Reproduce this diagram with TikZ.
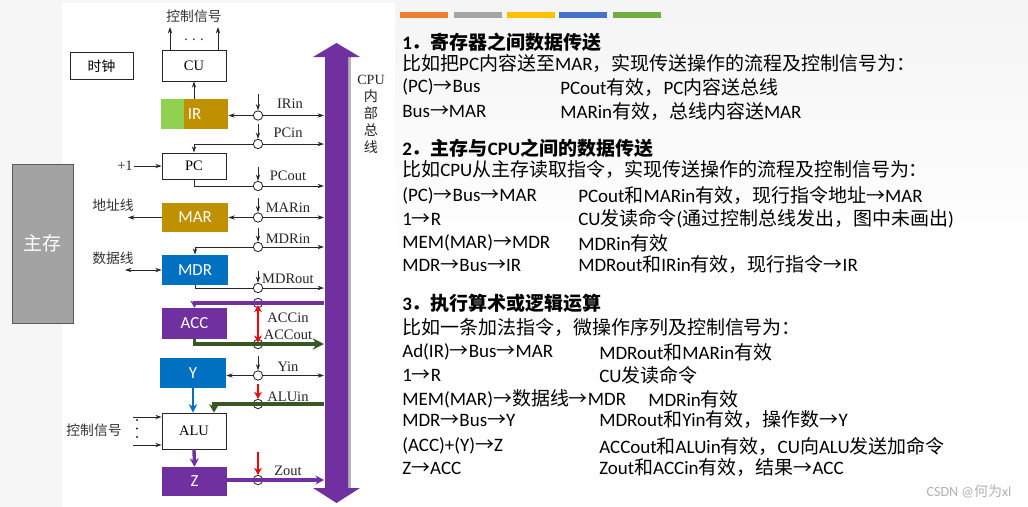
\documentclass[tikz,border=0pt]{standalone}
\usepackage{fontspec}
\usetikzlibrary{arrows.meta}
\setmainfont{Carlito}
\newfontfamily\cjk{Noto Sans CJK SC}
\newfontfamily\tnr{Liberation Serif}
\definecolor{BusMorado}{RGB}{112, 48, 160}
\definecolor{RegDorado}{RGB}{191, 144, 0}
\definecolor{IrVerde}{RGB}{146, 208, 80}
\definecolor{RegAzul}{RGB}{0, 112, 192}
\definecolor{LineaVerde}{RGB}{56, 87, 35}
\definecolor{MemGris}{RGB}{163, 163, 163}
\definecolor{BarNaranja}{RGB}{237, 125, 49}
\definecolor{BarGris}{RGB}{165, 165, 165}
\definecolor{BarAmarillo}{RGB}{255, 192, 0}
\definecolor{BarAzul}{RGB}{68, 114, 196}
\definecolor{BarVerde}{RGB}{112, 173, 71}

% chinese characters -> CJK font
\XeTeXinterchartokenstate=1
\newcount\hanchar
\def\setHan#1#2{\hanchar=#1\relax
  \loop\XeTeXcharclass\hanchar=77\relax
  \ifnum\hanchar<#2\relax\advance\hanchar by 1\repeat}
\setHan{"4E00}{"9FFF}
\setHan{"3000}{"303F}
\setHan{"FF00}{"FFEF}
\setHan{"2192}{"2192}
\XeTeXinterchartoks 0 77={\begingroup\cjk}
\XeTeXinterchartoks 4095 77={\begingroup\cjk}
\XeTeXinterchartoks 77 0={\endgroup}
\XeTeXinterchartoks 77 4095={\endgroup}

\tikzset{
  boxsize/.style 2 args={minimum width=#1*0.025cm, minimum height=#2*0.025cm},
  reg/.style={draw=black!85, line width=0.6pt, inner sep=0pt, font=\tnr\fontsize{10.3}{12}\selectfont},
  creg/.style={inner sep=0pt, text=white, font=\fontsize{12}{14}\selectfont},
  gate/.style={circle, draw=black!85, line width=0.6pt, fill=white, minimum size=0.235cm, inner sep=0pt},
  lbl/.style={inner sep=1pt, text=black!85, font=\tnr\fontsize{10.3}{12}\selectfont},
  zh/.style={inner sep=1pt, text=black!80, font=\fontsize{9.8}{12}\selectfont},
  sig/.style={draw=black!85, line width=0.6pt, -{Stealth[length=4.5pt,width=3pt]}},
  sigb/.style={draw=black!85, line width=0.6pt, {Stealth[length=4.5pt,width=3pt]}-{Stealth[length=4.5pt,width=3pt]}},
  morado/.style={BusMorado, line width=2.4pt, -{Stealth[length=6pt,width=6.5pt]}},
  verde/.style={LineaVerde, line width=2.8pt, -{Stealth[length=8pt,width=8pt]}},
  azul/.style={RegAzul, line width=2pt, -{Stealth[length=6pt,width=6pt]}},
  redsig/.style={red, line width=2pt, -{Stealth[length=5pt,width=5.5pt]}},
  txt/.style={anchor=west, inner sep=0pt, font=\fontsize{13.5}{16}\selectfont},
  hd/.style={anchor=west, inner sep=0pt, font=\bfseries\fontsize{13.5}{16}\selectfont}
}

\begin{document}
\begin{tikzpicture}[x=0.025cm, y=-0.025cm]
  % fondo
  \fill[gray!7] (0,0) rectangle (1028,507);
  \shade[top color=gray!8, bottom color=white] (395,0) rectangle (1028,260);
  \fill[white] (395,260) rectangle (1028,507);
  \fill[white] (62,3) rectangle (395,507);
  \useasboundingbox (0,0) rectangle (1028,507);
  \fill[BarNaranja] (400,12) rectangle (448,18);
  \fill[BarGris] (454,12) rectangle (502,18);
  \fill[BarAmarillo] (507,12) rectangle (555,18);
  \fill[BarAzul] (559,12) rectangle (607,18);
  \fill[BarVerde] (613,12) rectangle (661,18);

  % bus interno
  \fill[gray!60] (348,57) rectangle (351,488);
  \fill[BusMorado] (336.5,43) -- (360,57) -- (348,57) -- (348,488) -- (360,488)
    -- (336.5,503) -- (313,488) -- (325,488) -- (325,57) -- (313,57) -- cycle;
  \coordinate (bus) at (324,0);
  \node[lbl, align=center, font=\tnr\fontsize{10}{12.1}\selectfont] (cpubus) at (371,114) {CPU\\内\\部\\总\\线};

  % registros
  \node[reg, fill=MemGris, draw=gray!70!black, text=white, boxsize={61}{159}, font=\fontsize{13.5}{16}\selectfont] (mem) at (42.5,243.5) {主存};
  \node[reg, boxsize={63}{27}, font=\fontsize{9.8}{12}\selectfont] (clk) at (101.5,66) {时钟};
  \node[reg, boxsize={64}{31}] (cu) at (194,65.5) {CU};
  \node[creg, boxsize={67}{30}, fill=RegDorado, path picture={\fill[IrVerde] (path picture bounding box.south west) rectangle ([xshift=0.575cm]path picture bounding box.north west);}] (ir) at (194.5,114) {IR};
  \node[reg, boxsize={64}{26}] (pc) at (194,166) {PC};
  \node[creg, boxsize={66}{29}, fill=RegDorado] (mar) at (195,217.5) {MAR};
  \node[creg, boxsize={66}{30}, fill=RegAzul] (mdr) at (195,270) {MDR};
  \node[creg, boxsize={65}{31}, fill=BusMorado] (acc) at (194.5,323.5) {ACC};
  \node[creg, boxsize={66}{30}, fill=RegAzul] (yreg) at (193,373) {Y};
  \node[reg, boxsize={64}{36}] (alu) at (194,431) {ALU};
  \node[creg, boxsize={65}{29}, fill=BusMorado] (zreg) at (194.5,481.5) {Z};

  % compuertas
  \node[gate] (gIRin) at (258,115.5) {};
  \node[gate] (gPCin) at (258,144) {};
  \node[gate] (gPCout) at (258,186) {};
  \node[gate] (gMARin) at (258,217.5) {};
  \node[gate] (gMDRin) at (258,247) {};
  \node[gate] (gMDRout) at (258,288) {};
  \node[gate] (gACCin) at (258,303) {};
  \node[gate] (gACCout) at (258,344) {};
  \node[gate] (gYin) at (258,375.5) {};
  \node[gate] (gALUin) at (258,404) {};
  \node[gate] (gZout) at (258,480) {};

  % etiquetas
  \node[zh] (ctrltop) at (194,16) {控制信号};
  \node[lbl] (dots) at (194,40) {.\hspace{3pt}.\hspace{3pt}.};
  \node[lbl] (plus) at (125,166) {+1};
  \node[zh] (addrtxt) at (113,205) {地址线};
  \node[zh] (datatxt) at (113,258) {数据线};
  \node[zh] (ctrlalu) at (94,430) {控制信号};
  \fill[black!85] (137,420) circle (0.8pt);
  \fill[black!85] (137,428.5) circle (0.8pt);
  \fill[black!85] (137,437) circle (0.8pt);
  \node[lbl] (lIRin) at (290,104) {IRin};
  \node[lbl] (lPCin) at (288,133) {PCin};
  \node[lbl] (lPCout) at (288,176) {PCout};
  \node[lbl] (lMARin) at (288,208) {MARin};
  \node[lbl] (lMDRin) at (288,239) {MDRin};
  \node[lbl] (lMDRout) at (288,279) {MDRout};
  \node[lbl] (lACCin) at (288,318) {ACCin};
  \node[lbl] (lACCout) at (288,335) {ACCout};
  \node[lbl] (lYin) at (288,367) {Yin};
  \node[lbl] (lALUin) at (288,397) {ALUin};
  \node[lbl] (lZout) at (288,471) {Zout};

  \coordinate (out1) at (170,27);
  \coordinate (out2) at (218,27);
  \coordinate (addr) at (128,217.5);
  \coordinate (data) at (125,270);
  \coordinate (cin1) at (133,417);
  \coordinate (cin2) at (133,445);

  % lineas de control
  \draw[sig] (out1 |- cu.north) -- (out1);
  \draw[sig] (out2 |- cu.north) -- (out2);
  \draw[sig] (ir.north -| cu.south) -- (cu.south);
  \draw[sig] (plus) -- (pc.west);
  \draw[sig] (mar.west) -- (addr);
  \draw[sigb] (data) -- (mdr.west);
  \draw[sig] (cin1) -- (cin1 -| alu.west);
  \draw[sig] (cin2) -- (cin2 -| alu.west);

  \draw[sig] (gIRin) -- (gIRin -| bus);
  \draw[sig] (gIRin) -- (gIRin -| ir.east);
  \draw[sig] (gPCin) -- (gPCin -| bus);
  \draw[sig] (gPCin) -| (pc.north);
  \draw[draw=black!85, line width=0.6pt] (pc.south) |- (gPCout);
  \draw[sig] (gPCout) -- (gPCout -| bus);
  \draw[sig] (gMARin) -- (gMARin -| bus);
  \draw[sig] (gMARin) -- (gMARin -| mar.east);
  \draw[sig] (gMDRin) -- (gMDRin -| bus);
  \draw[sig] (gMDRin) -| (mdr.north);
  \draw[draw=black!85, line width=0.6pt] (mdr.south) |- (gMDRout);
  \draw[sig] (gMDRout) -- (gMDRout -| bus);
  \draw[sig] (gYin) -- (gYin -| bus);
  \draw[sig] (gYin) -- (gYin -| yreg.east);

  \draw[sig] ([yshift=0.4cm]gIRin.north) -- (gIRin.north);
  \draw[sig] ([yshift=0.37cm]gPCin.north) -- (gPCin.north);
  \draw[sig] ([yshift=0.35cm]gPCout.north) -- (gPCout.north);
  \draw[sig] ([yshift=0.37cm]gMARin.north) -- (gMARin.north);
  \draw[sig] ([yshift=0.35cm]gMDRin.north) -- (gMDRin.north);
  \draw[sig] ([yshift=0.3cm]gMDRout.north) -- (gMDRout.north);
  \draw[sig] ([yshift=0.37cm]gYin.north) -- (gYin.north);

  % caminos de la suma
  \draw[morado, -{Stealth[length=5pt,width=6pt]}] (gACCin -| bus) -| (acc.north);
  \draw[verde] (acc.south) |- (gACCout -| bus);
  \draw[azul] (yreg.south) -- (yreg.south |- alu.north);
  \draw[verde, line width=2.6pt, -{Stealth[length=6pt,width=7pt]}] (gALUin -| bus) -| ([xshift=0.5cm]alu.north);
  \draw[morado] (alu.south) -- (zreg.north);
  \draw[morado] (gZout -| zreg.east) -- (gZout -| bus);
  \draw[redsig, {Stealth[length=5pt,width=5.5pt]}-{Stealth[length=5pt,width=5.5pt]}, shorten <=1.5pt, shorten >=1pt] (gACCin.center) -- (gACCout.center);
  \draw[redsig] ([yshift=0.36cm]gALUin.north) -- (gALUin.north);
  \draw[redsig] ([yshift=0.56cm]gZout.north) -- (gZout.north);

  % texto
  \node[hd] (h1) at (402,42) {1．寄存器之间数据传送};
  \node[txt] (t1) at (402,63) {比如把PC内容送至MAR，实现传送操作的流程及控制信号为：};
  \node[txt] (a11) at (402,87) {(PC)→Bus};
  \node[txt] (b11) at (560,87) {PCout有效，PC内容送总线};
  \node[txt] (a12) at (402,111) {Bus→MAR};
  \node[txt] (b12) at (560,111) {MARin有效，总线内容送MAR};

  \node[hd] (h2) at (402,148) {2．主存与CPU之间的数据传送};
  \node[txt] (t2) at (402,169) {比如CPU从主存读取指令，实现传送操作的流程及控制信号为：};
  \node[txt] (a21) at (402,196) {(PC)→Bus→MAR};
  \node[txt] (b21) at (578,196) {PCout和MARin有效，现行指令地址→MAR};
  \node[txt] (a22) at (402,219) {1→R};
  \node[txt] (b22) at (578,219) {CU发读命令(通过控制总线发出，图中未画出)};
  \node[txt] (a23) at (402,243) {MEM(MAR)→MDR};
  \node[txt] (b23) at (578,243) {MDRin有效};
  \node[txt] (a24) at (402,265) {MDR→Bus→IR};
  \node[txt] (b24) at (578,265) {MDRout和IRin有效，现行指令→IR};

  \node[hd] (h3) at (402,303) {3．执行算术或逻辑运算};
  \node[txt] (t3) at (402,327) {比如一条加法指令，微操作序列及控制信号为：};
  \node[txt] (a31) at (402,352) {Ad(IR)→Bus→MAR};
  \node[txt] (b31) at (599,352) {MDRout和MARin有效};
  \node[txt] (a32) at (402,375) {1→R};
  \node[txt] (b32) at (599,375) {CU发读命令};
  \node[txt] (a33) at (402,399) {MEM(MAR)→数据线→MDR};
  \node[txt] (b33) at (648,399) {MDRin有效};
  \node[txt] (a34) at (402,420) {MDR→Bus→Y};
  \node[txt] (b34) at (599,420) {MDRout和Yin有效，操作数→Y};
  \node[txt] (a35) at (402,446) {(ACC)+(Y)→Z};
  \node[txt] (b35) at (599,446) {ACCout和ALUin有效，CU向ALU发送加命令};
  \node[txt] (a36) at (402,468) {Z→ACC};
  \node[txt] (b36) at (599,468) {Zout和ACCin有效，结果→ACC};

  \node[text=gray!60, inner sep=0pt, font=\fontsize{10}{12}\selectfont] (csdn) at (969,491) {CSDN @何为xl};
\end{tikzpicture}
\end{document}
